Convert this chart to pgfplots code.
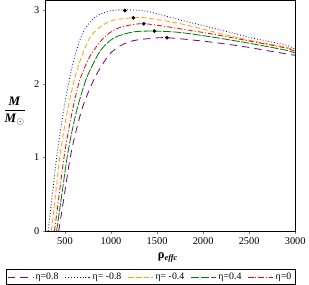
\documentclass[border=0pt]{standalone}
\usepackage{amsmath}
\usepackage{pgfplots}
\pgfplotsset{compat=1.18}
\usepackage{fontspec}
\setmainfont{Liberation Serif}
\definecolor{cpurple}{RGB}{128,0,128}
\definecolor{cblue}{RGB}{0,0,255}
\definecolor{corange}{RGB}{255,165,0}
\definecolor{cgreen}{RGB}{0,128,0}
\definecolor{cred}{RGB}{255,0,0}
\begin{document}
\begin{tikzpicture}
\begin{axis}[
  scale only axis,
  width=240bp, height=222bp,
  xmin=290, xmax=3000, ymin=0, ymax=3.14,
  xtick={500,1000,1500,2000,2500,3000},
  ytick={0,1,2,3},
  tick align=outside, xtick pos=left, ytick pos=left,
  major tick length=2.5pt,
  tick style={gray},
  /pgf/number format/assume math mode=true,
  /pgf/number format/1000 sep={},
  tick label style={font=\fontsize{10}{11}\selectfont},
  axis line style={black},
  xlabel={\textbf{ρ}$_{\textbf{\textit{effc}}}$},
  xlabel style={font=\fontsize{12}{13}\selectfont, at={(axis description cs:0.49,-0.08)}, anchor=north},
  ylabel={$\dfrac{\textbf{\textit{M}}}{\textbf{\textit{M}}_{\odot}}$},
  ylabel style={rotate=-90, at={(axis description cs:-0.065,0.52)}, anchor=east, font=\fontsize{12.5}{14}\selectfont},
  legend columns=5,
  legend style={at={(axis description cs:0.42,-0.165)}, anchor=north, font=\fontsize{9.5}{11}\selectfont, /tikz/every even column/.append style={column sep=4pt}, inner sep=1.5pt},
  legend image code/.code={\draw[mark repeat=2,mark phase=2,#1] plot coordinates {(0cm,0cm) (0.425cm,0cm) (0.85cm,0cm)};},
]
\addplot[color=cpurple, thick, dash pattern=on 7pt off 5pt, smooth] coordinates {
(432,0) (494,0.5) (557,1.0) (614,1.33) (690,1.68) (774,1.95) (860,2.17) (980,2.40) (1100,2.52) (1242,2.59) (1436,2.62) (1607,2.63) (1950,2.59) (2213,2.55) (2487,2.50) (2715,2.45) (3000,2.39)};
\addlegendentry{η=0.8}
\addplot[color=cblue, thick, dotted, smooth] coordinates {
(317,0) (363,0.5) (409,1.0) (455,1.4) (500,1.75) (546,2.05) (600,2.35) (671,2.63) (728,2.77) (808,2.89) (900,2.96) (1014,3.0) (1150,3.01) (1385,2.99) (1756,2.87) (2144,2.75) (2521,2.63) (2898,2.53) (3000,2.47)};
\addlegendentry{η= -0.8}
\addplot[color=corange, thick, dash pattern=on 5pt off 2.5pt, smooth] coordinates {
(352,0) (398,0.5) (443,1.0) (490,1.38) (540,1.72) (600,2.05) (660,2.30) (717,2.49) (785,2.66) (888,2.78) (980,2.85) (1071,2.88) (1242,2.90) (1379,2.90) (1756,2.82) (2144,2.70) (2521,2.59) (2898,2.50) (3000,2.45)};
\addlegendentry{η= -0.4}
\addplot[color=cgreen, thick, dash pattern=on 8pt off 1.5pt, smooth] coordinates {
(409,0) (466,0.5) (523,1.0) (580,1.38) (640,1.70) (728,2.06) (808,2.28) (888,2.46) (980,2.58) (1071,2.65) (1250,2.71) (1470,2.72) (1756,2.70) (2144,2.63) (2521,2.55) (2898,2.46) (3000,2.42)};
\addlegendentry{η=0.4}
\addplot[color=cred, thick, dash pattern=on 5pt off 2pt on 1pt off 2pt, smooth] coordinates {
(386,0) (437,0.5) (489,1.0) (540,1.38) (600,1.75) (660,2.05) (751,2.33) (831,2.49) (922,2.63) (1014,2.72) (1128,2.78) (1356,2.82) (1756,2.75) (2144,2.67) (2521,2.58) (2898,2.49) (3000,2.44)};
\addlegendentry{η=0}
\addplot[only marks, mark=*, mark size=1.6pt, black, forget plot] coordinates {
(1150,3.0) (1242,2.90) (1356,2.82) (1470,2.72) (1607,2.63)};
\end{axis}
\end{tikzpicture}
\end{document}
